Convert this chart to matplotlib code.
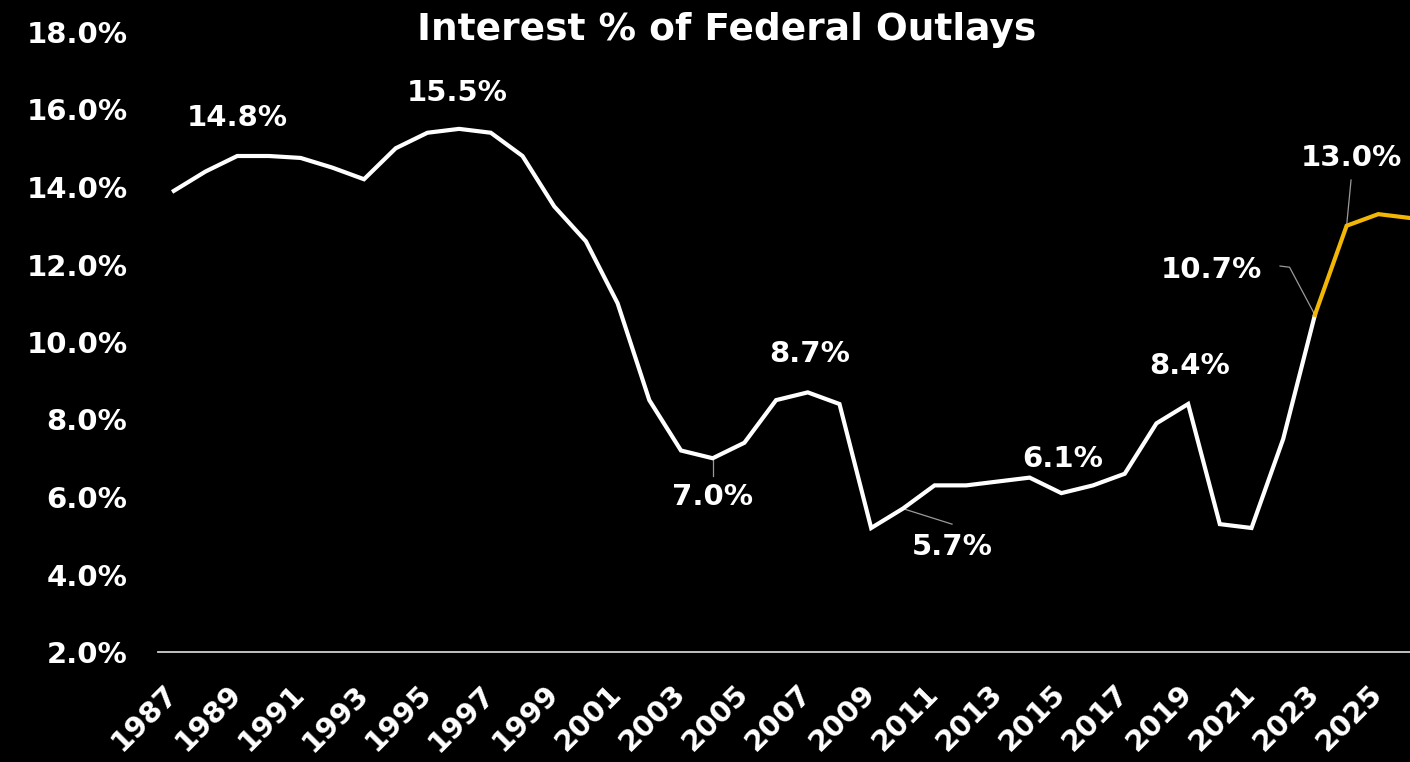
import matplotlib
matplotlib.use("Agg")
import matplotlib.pyplot as plt

# Interest costs as a share of federal outlays, by fiscal year
years = list(range(1987, 2027))
share = [13.9, 14.4, 14.8, 14.8, 14.75, 14.5, 14.2, 15.0, 15.4, 15.5,
         15.4, 14.8, 13.5, 12.6, 11.0, 8.5, 7.2, 7.0, 7.4, 8.5,
         8.7, 8.4, 5.2, 5.7, 6.3, 6.3, 6.4, 6.5, 6.1, 6.3,
         6.6, 7.9, 8.4, 5.3, 5.2, 7.5, 10.7, 13.0, 13.3, 13.2]
actual_end = 2023  # later years are projections

# Annotated points: year -> (label x offset in years, label y value)
callouts = {
    1989: (0.0, 15.78),
    1996: (-0.05, 16.43),
    2004: (0.0, 6.0),
    2007: (0.05, 9.69),
    2010: (1.57, 4.71),
    2015: (0.05, 6.98),
    2019: (0.05, 9.38),
    2023: (-3.26, 11.86),
    2024: (0.16, 14.75),
}

yticks = [2, 4, 6, 8, 10, 12, 14, 16, 18]
xticks = list(range(1987, 2027, 2))

W, H = 1410, 762
FS = 21
fig = plt.figure(figsize=(W / 100, H / 100), dpi=100, facecolor="black")
ax = fig.add_axes([158 / W, (H - 652) / H, (W - 158) / W, (652 - 32) / H])
ax.set_facecolor("black")

split = years.index(actual_end)
ax.plot(years[:split + 1], share[:split + 1], color="white", lw=3.0,
        solid_joinstyle="miter", zorder=3)
ax.plot(years[split:], share[split:], color="#F2B705", lw=3.0,
        solid_joinstyle="miter", zorder=3)

ax.set_xlim(1986.5, 2026.0)
ax.set_ylim(2, 18)
ax.set_yticks(yticks)
ax.set_yticklabels([f"{v:.1f}%" for v in yticks])
ax.set_xticks(xticks)
ax.set_xticklabels([str(y) for y in xticks], rotation=45, ha="right",
                   va="center", rotation_mode="anchor")

for s in ("top", "right", "left"):
    ax.spines[s].set_visible(False)
ax.spines["bottom"].set_color("#d0d0d0")
ax.spines["bottom"].set_linewidth(1.3)
ax.tick_params(axis="both", length=0, colors="white")
ax.tick_params(axis="y", pad=22, labelsize=FS)
ax.tick_params(axis="x", pad=27, labelsize=FS)
for lab in ax.get_xticklabels() + ax.get_yticklabels():
    lab.set_fontweight("bold")
    lab.set_color("white")

for yr, (dx, ly) in callouts.items():
    v = share[years.index(yr)]
    ax.text(yr + dx, ly, f"{v:.1f}%", color="white", fontsize=FS,
            fontweight="bold", ha="center", va="center", zorder=4)

# thin leader lines joining labels to their points
def leader(xs, ys):
    ax.plot(xs, ys, color="#9a9a9a", lw=0.9, zorder=2)

v = share[years.index(2004)]
leader([2004, 2004], [v, 6.55])
v = share[years.index(2010)]
leader([2010, 2011.55], [v, 5.3])
v = share[years.index(2023)]
leader([2021.9, 2022.2, 2023], [11.96, 11.93, v])
v = share[years.index(2024)]
leader([2024, 2024.14], [v, 14.18])

fig.text(727 / W, 1 - 30 / H, "Interest % of Federal Outlays", color="white",
         fontsize=27, fontweight="bold", ha="center", va="center")

fig.savefig("out.png", dpi=100, facecolor="black")
